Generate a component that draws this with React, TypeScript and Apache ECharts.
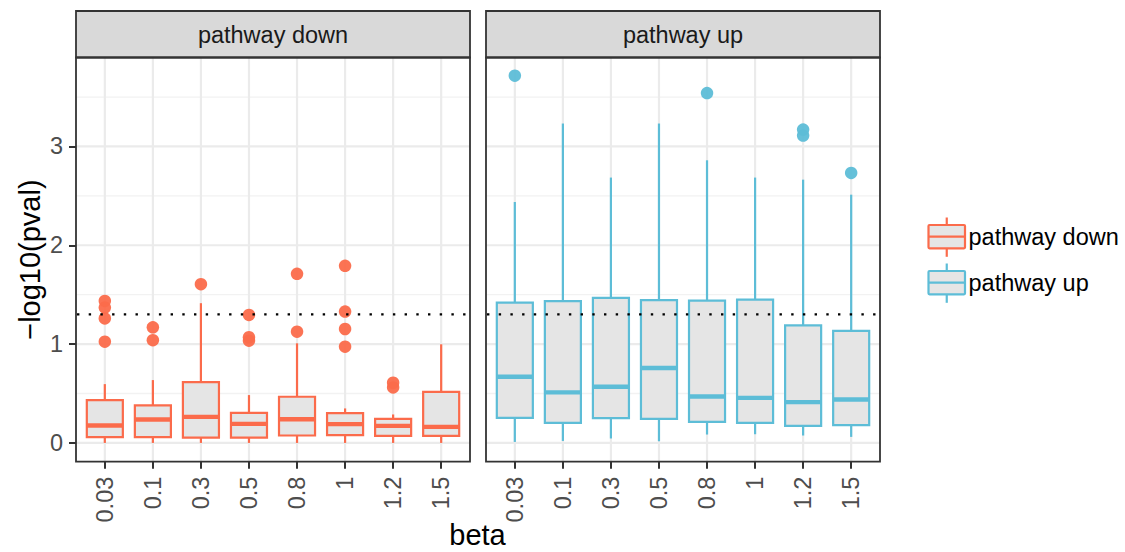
import React, { useEffect, useRef } from "react";
import * as echarts from "echarts";

// beta values on the x axis (one box per value)
const betaLabels = ["0.03", "0.1", "0.3", "0.5", "0.8", "1", "1.2", "1.5"];

// box statistics per beta: [lower whisker, Q1, median, Q3, upper whisker]
const downStats = [
  [0.0, 0.058, 0.176, 0.434, 0.595],
  [0.0, 0.058, 0.237, 0.379, 0.636],
  [0.0, 0.054, 0.264, 0.616, 1.414],
  [0.0, 0.054, 0.193, 0.304, 0.484],
  [0.0, 0.075, 0.24, 0.467, 1.008],
  [0.0, 0.078, 0.19, 0.301, 0.349],
  [0.0, 0.071, 0.173, 0.243, 0.288],
  [0.0, 0.071, 0.162, 0.517, 0.998],
];
const upStats = [
  [0.01, 0.254, 0.669, 1.42, 2.438],
  [0.02, 0.203, 0.511, 1.434, 3.232],
  [0.045, 0.25, 0.568, 1.468, 2.685],
  [0.017, 0.243, 0.758, 1.444, 3.232],
  [0.085, 0.213, 0.47, 1.44, 2.86],
  [0.088, 0.203, 0.456, 1.45, 2.685],
  [0.075, 0.172, 0.413, 1.19, 2.664],
  [0.061, 0.18, 0.44, 1.133, 2.512],
];

// outliers: [beta index, -log10(pval)]
const downOutliers = [
  [0, 1.025], [0, 1.26], [0, 1.37], [0, 1.437],
  [1, 1.04], [1, 1.17],
  [2, 1.606],
  [3, 1.035], [3, 1.069], [3, 1.295],
  [4, 1.126], [4, 1.711],
  [5, 0.974], [5, 1.153], [5, 1.329], [5, 1.792],
  [6, 0.562], [6, 0.609],
];
const upOutliers = [
  [0, 3.716],
  [4, 3.54],
  [6, 3.11], [6, 3.171],
  [7, 2.732],
];

const yTicks = [0, 1, 2, 3];
const yMinor = [0.5, 1.5, 2.5, 3.5];
const threshold = -Math.log10(0.05);

const panels = ["pathway down", "pathway up"];
const colors = ["#FB6B4B", "#5DBDD7"];

const PANEL_TOP = 57.5;
const PANEL_H = 404.2;
const PANEL_W = 394;
const PANEL_LEFT = [76, 486];
const STRIP_TOP = 11;
const FONT = "'Liberation Sans', Arial, Helvetica, sans-serif";

function gridLinesData() {
  const out: number[][] = [];
  yTicks.forEach((v) => out.push([0, v, 0]));
  yMinor.forEach((v) => out.push([0, v, 1]));
  betaLabels.forEach((_, i) => out.push([i, 0, 2]));
  return out;
}

function renderGridLine(params: any, api: any) {
  const cs = params.coordSys;
  const kind = api.value(2);
  const p = api.coord([api.value(0), api.value(1)]);
  if (kind === 2) {
    return {
      type: "line",
      shape: { x1: p[0], y1: cs.y, x2: p[0], y2: cs.y + cs.height },
      style: { stroke: "#EBEBEB", lineWidth: 2.2 },
    };
  }
  return {
    type: "line",
    shape: { x1: cs.x, y1: p[1], x2: cs.x + cs.width, y2: p[1] },
    style: { stroke: kind === 0 ? "#EBEBEB" : "#F2F2F2", lineWidth: kind === 0 ? 2.2 : 1.3 },
  };
}

function makeBoxRenderer(color: string) {
  return (params: any, api: any) => {
    const x = api.value(0);
    const pLo = api.coord([x, api.value(1)]);
    const pQ1 = api.coord([x, api.value(2)]);
    const pMed = api.coord([x, api.value(3)]);
    const pQ3 = api.coord([x, api.value(4)]);
    const pHi = api.coord([x, api.value(5)]);
    const band = api.size([1, 0])[0];
    const hw = band * 0.375;
    const cx = pLo[0];
    return {
      type: "group",
      children: [
        { type: "line", shape: { x1: cx, y1: pHi[1], x2: cx, y2: pQ3[1] }, style: { stroke: color, lineWidth: 2.2 } },
        { type: "line", shape: { x1: cx, y1: pQ1[1], x2: cx, y2: pLo[1] }, style: { stroke: color, lineWidth: 2.2 } },
        {
          type: "rect",
          shape: { x: cx - hw, y: pQ3[1], width: 2 * hw, height: pQ1[1] - pQ3[1] },
          style: { fill: "#E5E5E5", stroke: color, lineWidth: 2.2 },
        },
        {
          type: "line",
          shape: { x1: cx - hw, y1: pMed[1], x2: cx + hw, y2: pMed[1] },
          style: { stroke: color, lineWidth: 4.4 },
        },
      ],
    };
  };
}

function renderThreshold(params: any, api: any) {
  const cs = params.coordSys;
  const p = api.coord([0, api.value(1)]);
  return {
    type: "line",
    shape: { x1: cs.x + 1, y1: p[1], x2: cs.x + cs.width, y2: p[1] },
    style: { stroke: "#000", lineWidth: 2.4, lineDash: [2.4, 9.3] },
  };
}

function legendKey(y: number, color: string) {
  const x = 928.5;
  const w = 36.5;
  const h = 23.3;
  const cx = x + w / 2;
  return [
    { type: "line", shape: { x1: cx, y1: y - 7.5, x2: cx, y2: y }, style: { stroke: color, lineWidth: 2.2 } },
    { type: "line", shape: { x1: cx, y1: y + h, x2: cx, y2: y + h + 8.5 }, style: { stroke: color, lineWidth: 2.2 } },
    { type: "rect", shape: { x, y, width: w, height: h, r: 1 }, style: { fill: "#E5E5E5", stroke: color, lineWidth: 2.2 } },
    { type: "line", shape: { x1: x, y1: y + h / 2, x2: x + w, y2: y + h / 2 }, style: { stroke: color, lineWidth: 2.2 } },
  ];
}

export default function App() {
  const ref = useRef<HTMLDivElement>(null);

  useEffect(() => {
    if (!ref.current) return;
    const chart = echarts.init(ref.current, undefined, { renderer: "svg" });

    const grids = PANEL_LEFT.map((left) => ({
      left,
      top: PANEL_TOP,
      width: PANEL_W,
      height: PANEL_H,
      containLabel: false,
      outerBoundsMode: "none",
    }));

    const xAxes = [0, 1].map((g) => ({
      type: "value",
      gridIndex: g,
      position: "bottom",
      min: -0.6,
      max: 7.6,
      axisLine: { show: false, onZero: false },
      splitLine: { show: false },
      axisTick: {
        show: true,
        customValues: betaLabels.map((_, i) => i),
        length: 7,
        lineStyle: { color: "#333333", width: 2 },
      },
      axisLabel: {
        show: true,
        customValues: betaLabels.map((_, i) => i),
        formatter: (v: number) => betaLabels[Math.round(v)],
        rotate: 90,
        margin: 15,
        fontSize: 23.5,
        fontFamily: FONT,
        color: "#4D4D4D",
      },
    }));

    const yAxes = [0, 1].map((g) => ({
      type: "value",
      gridIndex: g,
      position: "left",
      min: -0.19,
      max: 3.9,
      axisLine: { show: false, onZero: false },
      splitLine: { show: false },
      axisTick: {
        show: g === 0,
        customValues: yTicks,
        length: 7,
        lineStyle: { color: "#333333", width: 2 },
      },
      axisLabel: {
        show: g === 0,
        customValues: yTicks,
        margin: 13,
        fontSize: 23.5,
        fontFamily: FONT,
        color: "#4D4D4D",
      },
    }));

    const stats = [downStats, upStats];
    const outliers = [downOutliers, upOutliers];
    const series: any[] = [];
    [0, 1].forEach((g) => {
      series.push({
        type: "custom",
        xAxisIndex: g,
        yAxisIndex: g,
        silent: true,
        z: 1,
        renderItem: renderGridLine,
        data: gridLinesData(),
      });
      series.push({
        type: "custom",
        name: panels[g],
        xAxisIndex: g,
        yAxisIndex: g,
        z: 2,
        encode: { x: 0, y: [1, 2, 3, 4, 5] },
        renderItem: makeBoxRenderer(colors[g]),
        data: stats[g].map((s, i) => [i, ...s]),
      });
      series.push({
        type: "scatter",
        xAxisIndex: g,
        yAxisIndex: g,
        z: 3,
        symbolSize: 12.5,
        itemStyle: { color: colors[g], opacity: 0.95 },
        data: outliers[g],
      });
      series.push({
        type: "custom",
        xAxisIndex: g,
        yAxisIndex: g,
        silent: true,
        z: 4,
        renderItem: renderThreshold,
        data: [[0, threshold]],
      });
    });

    const graphic: any[] = [];
    [0, 1].forEach((g) => {
      const left = PANEL_LEFT[g];
      graphic.push({
        type: "rect",
        z: 10,
        shape: { x: left, y: STRIP_TOP, width: PANEL_W, height: PANEL_TOP - STRIP_TOP },
        style: { fill: "#D9D9D9", stroke: "#333333", lineWidth: 1.8 },
      });
      graphic.push({
        type: "text",
        z: 11,
        x: left + PANEL_W / 2,
        y: (STRIP_TOP + PANEL_TOP) / 2 + 1,
        style: {
          text: panels[g],
          fontSize: 23.5,
          fontFamily: FONT,
          fill: "#1A1A1A",
          align: "center",
          verticalAlign: "middle",
        },
      });
      graphic.push({
        type: "rect",
        z: 10,
        shape: { x: left, y: PANEL_TOP, width: PANEL_W, height: PANEL_H },
        style: { fill: "none", stroke: "#333333", lineWidth: 1.8 },
      });
    });
    graphic.push({
      type: "text",
      x: 30,
      y: PANEL_TOP + PANEL_H / 2,
      rotation: Math.PI / 2,
      style: {
        text: "\u2212log10(pval)",
        fontSize: 29,
        fontFamily: FONT,
        fill: "#000",
        align: "center",
        verticalAlign: "middle",
      },
    });
    graphic.push({
      type: "text",
      x: 477.5,
      y: 535,
      style: {
        text: "beta",
        fontSize: 29,
        fontFamily: FONT,
        fill: "#000",
        align: "center",
        verticalAlign: "middle",
      },
    });
    // legend
    const legendY = [225, 271];
    [0, 1].forEach((g) => {
      legendKey(legendY[g], colors[g]).forEach((el) => graphic.push(el));
      graphic.push({
        type: "text",
        x: 968.5,
        y: legendY[g] + 12,
        style: {
          text: panels[g],
          fontSize: 23.5,
          fontFamily: FONT,
          fill: "#000",
          align: "left",
          verticalAlign: "middle",
        },
      });
    });

    chart.setOption({
      animation: false,
      backgroundColor: "#FFFFFF",
      grid: grids,
      xAxis: xAxes,
      yAxis: yAxes,
      series,
      graphic,
    });

    return () => chart.dispose();
  }, []);

  return (
    <div
      ref={ref}
      style={{ position: "fixed", left: 0, top: 0, width: 1125, height: 552 }}
    />
  );
}
